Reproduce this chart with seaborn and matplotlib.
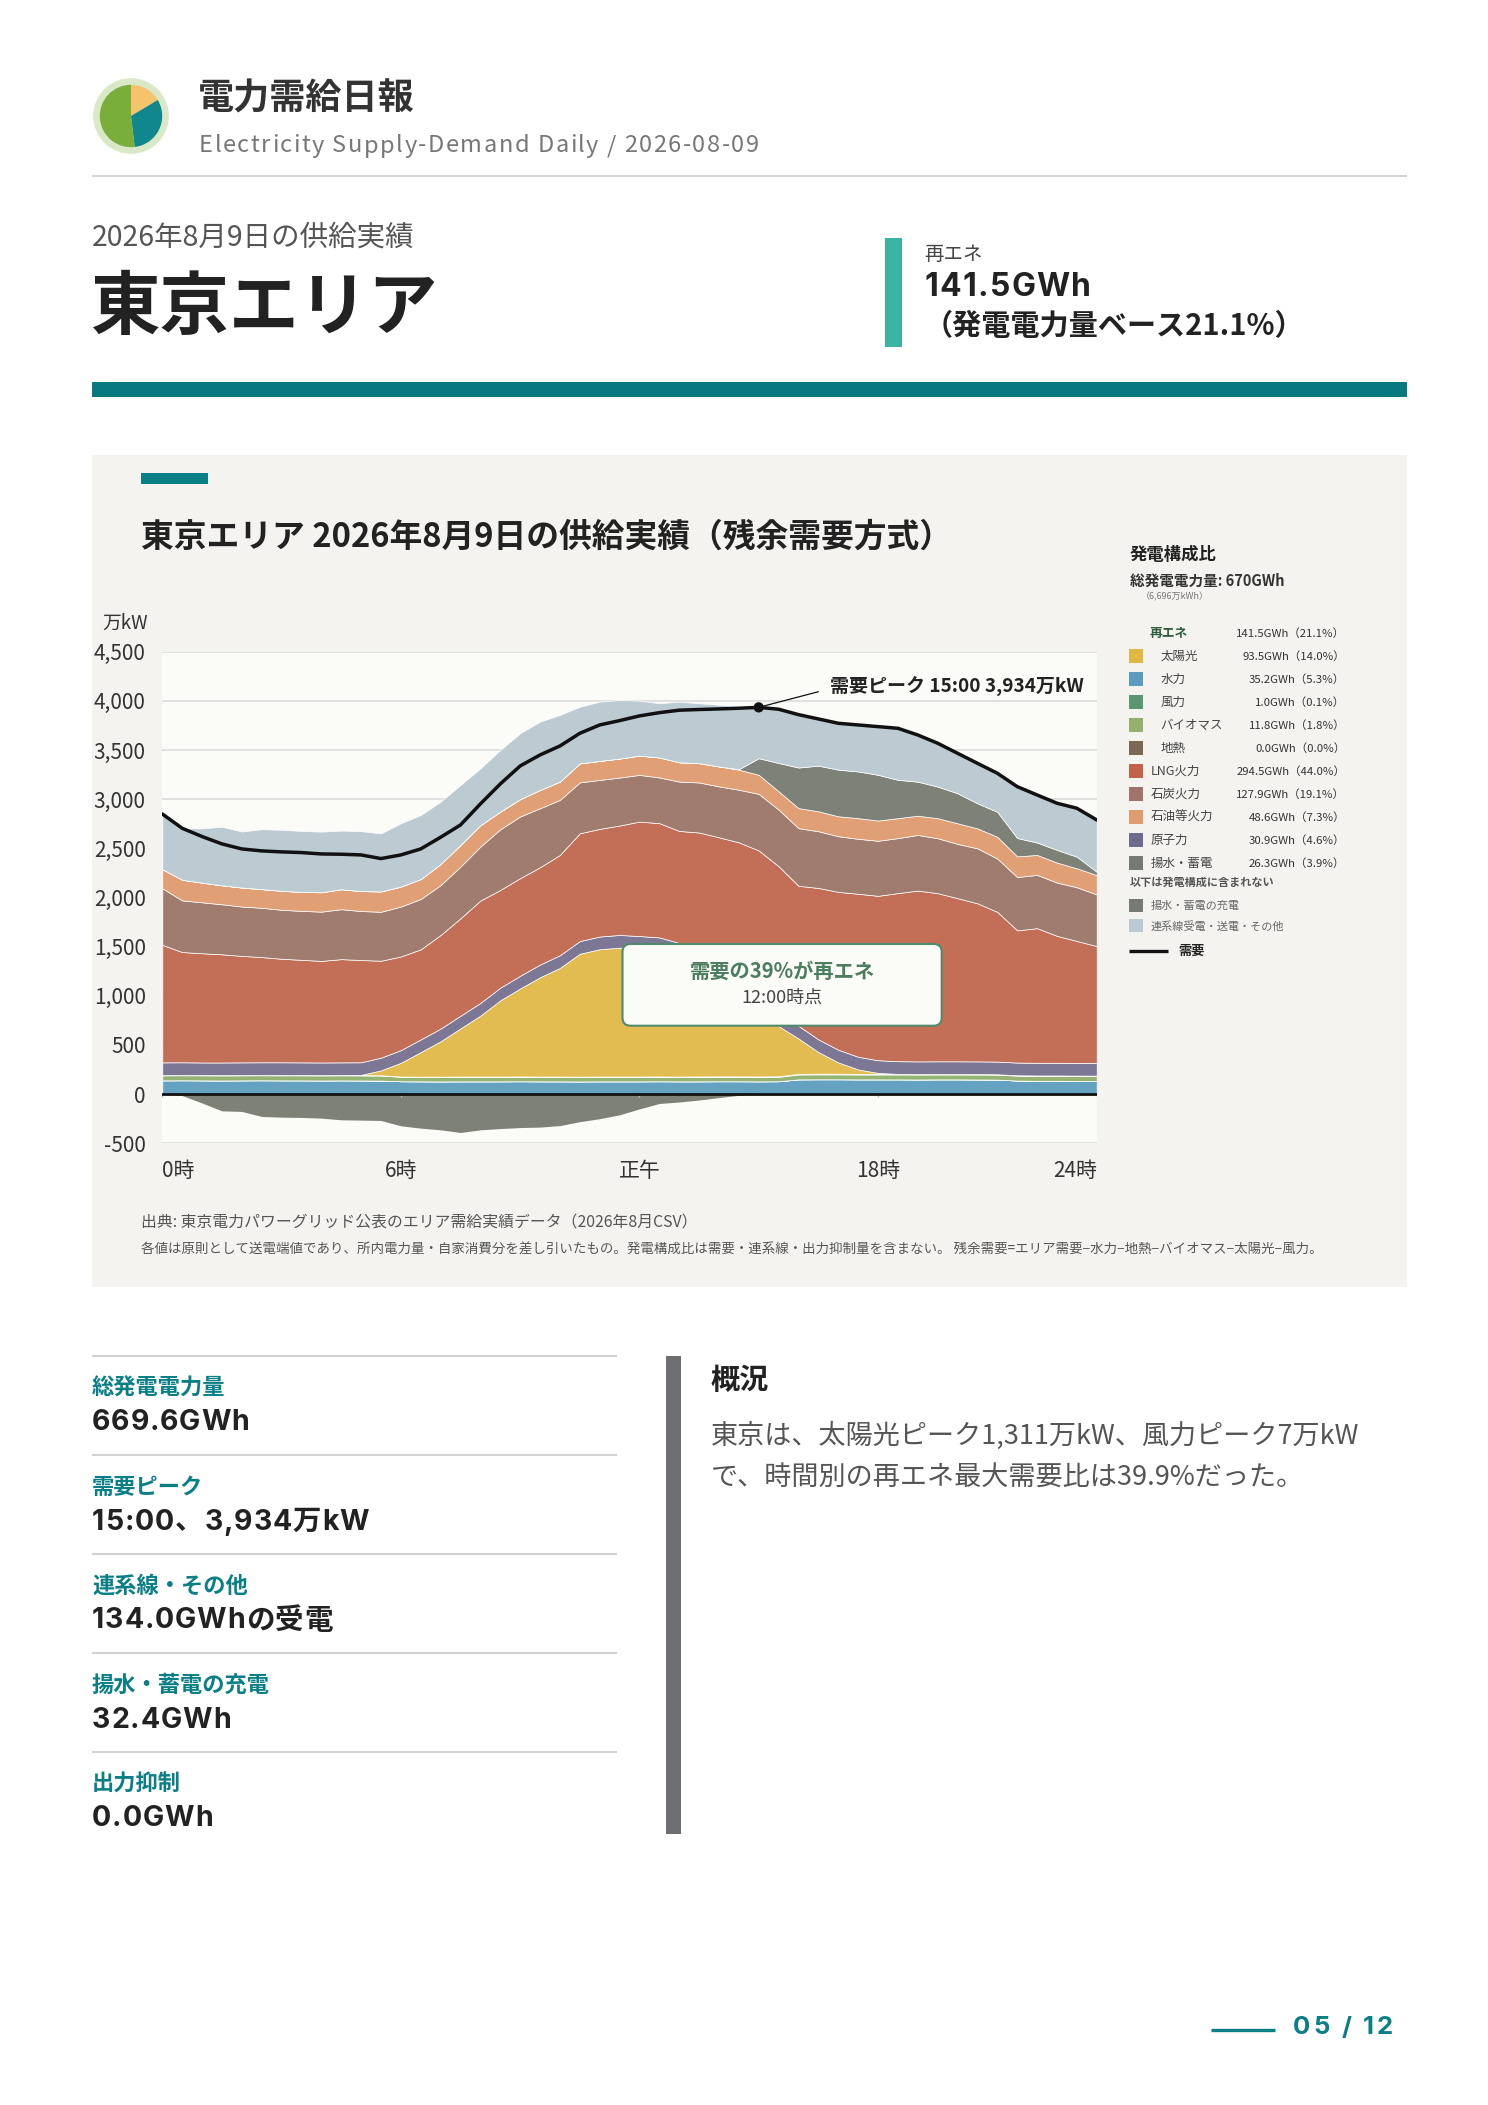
import numpy as np
import pandas as pd
import matplotlib
matplotlib.use('Agg')
import matplotlib.pyplot as plt
import seaborn as sns
from matplotlib.patches import Rectangle, FancyBboxPatch
from matplotlib.lines import Line2D
from matplotlib.transforms import IdentityTransform
from matplotlib.font_manager import FontProperties

# ---------------- data (万kW, 30-min steps 0:00 .. 23:30) ----------------
hours = [i * 0.5 for i in range(48)]
demand = [2850, 2704, 2620, 2545, 2494, 2474, 2464, 2457, 2443, 2440, 2433, 2396,
          2433, 2494, 2613, 2738, 2952, 3155, 3338, 3450, 3541, 3670, 3755, 3799,
          3847, 3880, 3905, 3912, 3918, 3925, 3934, 3915, 3860, 3816, 3772, 3755,
          3738, 3721, 3653, 3569, 3467, 3365, 3264, 3128, 3043, 2959, 2908, 2789]
hydro = [140, 141, 140, 139, 140, 141, 140, 140, 139, 140, 139, 138,
         131, 130, 129, 130, 130, 130, 131, 130, 130, 129, 130, 130,
         130, 131, 130, 130, 131, 131, 130, 131, 150, 151, 151, 150,
         150, 150, 149, 150, 150, 149, 148, 138, 136, 136, 135, 134]
geothermal = [0] * 48
biomass = [51, 51, 51, 51, 51, 51, 51, 51, 51, 51, 51, 51,
           45, 45, 45, 45, 45, 45, 45, 45, 45, 45, 45, 45,
           45, 45, 45, 45, 45, 45, 45, 45, 50, 50, 50, 50,
           50, 50, 50, 50, 50, 50, 50, 50, 50, 50, 50, 50]
wind = [3, 3, 3, 3, 3, 3, 3, 3, 3, 3, 3, 3,
        3, 3, 4, 4, 4, 4, 4, 4, 4, 4, 4, 4,
        4, 4, 4, 5, 5, 5, 5, 6, 6, 7, 7, 6,
        6, 6, 5, 5, 5, 5, 4, 4, 4, 4, 4, 4]
solar = [0, 0, 0, 0, 0, 0, 0, 0, 0, 0, 3, 50,
         140, 250, 360, 490, 620, 775, 895, 1010, 1105, 1250, 1295, 1311,
         1300, 1285, 1230, 1100, 960, 810, 660, 510, 360, 220, 115, 45,
         10, 0, 0, 0, 0, 0, 0, 0, 0, 0, 0, 0]
nuclear = [129, 129, 128, 129, 129, 129, 130, 129, 129, 129, 128, 129,
           129, 129, 129, 129, 129, 129, 129, 129, 129, 129, 129, 129,
           129, 129, 129, 129, 129, 129, 129, 129, 129, 129, 129, 129,
           129, 129, 129, 129, 129, 129, 129, 129, 129, 129, 129, 129]
lng = [1195, 1121, 1111, 1100, 1083, 1070, 1053, 1043, 1033, 1050, 1040, 986,
       952, 916, 952, 991, 1041, 994, 993, 990, 1020, 1096, 1095, 1113,
       1164, 1162, 1139, 1252, 1342, 1441, 1509, 1497, 1424, 1540, 1605, 1658,
       1672, 1710, 1737, 1710, 1659, 1608, 1523, 1345, 1369, 1291, 1240, 1189]
coal = [576, 525, 518, 509, 502, 501, 498, 498, 501, 508, 498, 498,
        508, 512, 508, 526, 549, 617, 627, 600, 560, 518, 498, 488,
        475, 465, 502, 509, 518, 535, 576, 576, 586, 577, 566, 559,
        560, 559, 566, 559, 552, 559, 542, 542, 542, 542, 546, 525]
oil = [194, 210, 200, 193, 193, 190, 193, 193, 197, 203, 203, 207,
       203, 203, 214, 220, 217, 180, 176, 186, 186, 193, 193, 193,
       196, 203, 196, 196, 203, 204, 194, 186, 204, 203, 203, 210,
       206, 203, 196, 203, 210, 203, 221, 210, 203, 203, 193, 197]
pumped_gen = [0, 0, 0, 0, 0, 0, 0, 0, 0, 0, 0, 0,
              0, 0, 0, 0, 0, 0, 0, 0, 0, 0, 0, 0,
              0, 0, 0, 0, 0, 5, 169, 288, 413, 464, 474, 475,
              465, 390, 346, 322, 305, 255, 254, 187, 126, 129, 118, 34]
interconnect = [562, 525, 552, 596, 570, 610, 621, 620, 617, 597, 610, 590,
                644, 651, 634, 610, 579, 627, 671, 695, 678, 576, 603, 596,
                559, 552, 617, 610, 627, 638, 518, 550, 539, 478, 475, 474,
                491, 525, 474, 441, 407, 406, 390, 525, 484, 475, 492, 525]
pumped_charge = [0, -15, -90, -170, -176, -227, -234, -237, -244, -261, -264, -268,
                 -322, -346, -363, -390, -363, -350, -340, -335, -320, -280, -250, -210,
                 -150, -95, -80, -60, -35, -12, 0, 0, 0, 0, 0, 0,
                 0, 0, 0, 0, 0, 0, 0, 0, 0, 0, 0, 0]

y_ticks = [-500, 0, 500, 1000, 1500, 2000, 2500, 3000, 3500, 4000, 4500]
x_ticks = [0, 6, 12, 18, 23.5]
x_tick_labels = ['0時', '6時', '正午', '18時', '24時']
peak_hour, peak_value = 15, 3934

legend_labels = ['太陽光', '水力', '風力', 'バイオマス', '地熱', 'LNG火力', '石炭火力',
                 '石油等火力', '原子力', '揚水・蓄電']
legend_values = ['93.5GWh（14.0%）', '35.2GWh（5.3%）', '1.0GWh（0.1%）', '11.8GWh（1.8%）',
                 '0.0GWh（0.0%）', '294.5GWh（44.0%）', '127.9GWh（19.1%）', '48.6GWh（7.3%）',
                 '30.9GWh（4.6%）', '26.3GWh（3.9%）']
legend_sub = [True, True, True, True, True, False, False, False, False, False]
renew_total = '141.5GWh（21.1%）'

kpi_labels = ['総発電電力量', '需要ピーク', '連系線・その他', '揚水・蓄電の充電', '出力抑制']
kpi_values = ['669.6GWh', '15:00、3,934万kW', '134.0GWhの受電', '32.4GWh', '0.0GWh']
logo_shares = [0.164, 0.317, 0.519]

# ---------------- styles ----------------
C_SOLAR, C_HYDRO, C_WIND, C_BIO, C_GEO = '#e2bc50', '#65a2c2', '#5a9670', '#95b474', '#7d6853'
C_LNG, C_COAL, C_OIL, C_NUC = '#c36e56', '#a07c6f', '#e09f74', '#7b7795'
C_PUMP, C_IC = '#7d8177', '#bccbd1'
LEG_COLORS = ['#e2b844', '#5b9bbd', '#5a9670', '#93b06f', '#7d6853', '#c3624a',
              '#a07468', '#e09c6e', '#6f6a8f', '#767a72']
TEAL = '#0b7f86'

W, H = 1488, 2105
sns.set_theme(style='white')
FAMILY = ['Noto Sans CJK JP', 'DejaVu Sans']
WIDE = ['Inter', 'Noto Sans CJK JP', 'DejaVu Sans']
plt.rcParams['font.family'] = FAMILY

fig = plt.figure(figsize=(W / 100, H / 100), dpi=100)
fig.patch.set_facecolor('white')
renderer = fig.canvas.get_renderer()


def fx(x):
    return x / W


def fy(y):
    return 1 - y / H


def T(x, y, s, **kw):
    kw.setdefault('va', 'center')
    kw.setdefault('ha', 'left')
    return fig.text(fx(x), fy(y), s, **kw)


def TT(x, y, s, track=0.0, target=None, ha='left', fontsize=12, fontweight='normal',
       family=FAMILY, **kw):
    """Text with letter spacing (track in pixels, or fitted to a target width)."""
    fp = FontProperties(family=family, size=fontsize, weight=fontweight)

    def wid(t):
        if t.strip() == '':
            return 0.0
        return renderer.get_text_width_height_descent(t, fp, ismath=False)[0]

    if target is not None:
        track = (target - wid(s)) / max(len(s) - 1, 1)
    total = wid(s) + track * (len(s) - 1)
    x0 = x if ha == 'left' else (x - total if ha == 'right' else x - total / 2)
    for k, ch in enumerate(s):
        if ch == ' ':
            continue
        off = wid(s[:k + 1]) - wid(ch)
        T(x0 + off + track * k, y, ch, ha='left', fontsize=fontsize,
          fontweight=fontweight, family=family, **kw)
    return track


def R(x0, y0, x1, y1, color, z=1):
    fig.add_artist(Rectangle((fx(x0), fy(y1)), (x1 - x0) / W, (y1 - y0) / H,
                             transform=fig.transFigure, facecolor=color,
                             edgecolor='none', zorder=z))


def L(x0, y0, x1, y1, color, lw, z=2):
    fig.add_artist(Line2D([fx(x0), fx(x1)], [fy(y0), fy(y1)], transform=fig.transFigure,
                          color=color, lw=lw, zorder=z, solid_capstyle='butt'))


# ---------------- header ----------------
ax_logo = fig.add_axes([fx(92), fy(155), 78 / W, 78 / H])
ax_logo.set_aspect('equal')
ax_logo.axis('off')
ax_logo.add_patch(plt.Circle((0, 0), 1.0, color='#d9e9c8'))
ax_logo.pie(logo_shares, colors=['#f6c26c', '#10878c', '#79ae3a'], startangle=90,
            counterclock=False, radius=0.84, wedgeprops=dict(linewidth=0))
ax_logo.set_xlim(-1.05, 1.05)
ax_logo.set_ylim(-1.05, 1.05)

T(198, 99, '電力需給日報', fontsize=26, fontweight='bold', color='#333333')
TT(199, 146, 'Electricity Supply-Demand Daily / 2026-08-09', target=560, fontsize=17,
   color='#777777')
L(92, 175.5, 1407, 175.5, '#d4d4d4', 1.5)

T(92, 238, '2026年8月9日の供給実績', fontsize=20.5, color='#555555')
T(90, 309, '東京エリア', fontsize=50, fontweight='bold', color='#222222')
R(885, 238, 902, 347, '#3bb3a3')
T(924, 254, '再エネ', fontsize=14, color='#444444')
TT(924, 288, '141.5GWh', target=167, fontsize=23, fontweight='bold', color='#222222',
   family=WIDE)
T(924, 326, '（発電電力量ベース21.1%）', fontsize=21, fontweight='bold', color='#222222')
R(92, 382, 1407, 397, '#077a80')

# ---------------- chart panel ----------------
R(92, 455, 1407, 1287, '#f4f3f0', z=-10)
R(141, 473, 208, 484, TEAL)
T(141, 537, '東京エリア 2026年8月9日の供給実績（残余需要方式）', fontsize=23.6,
  fontweight='bold', color='#222222')

ax = fig.add_axes([162.3 / W, 1 - 1143.3 / H, (1096.7 - 162.3) / W, (1143.3 - 651.7) / H])
ax.set_facecolor('#fbfbf8')
ax.stackplot(hours, hydro, geothermal, biomass, wind, solar, nuclear, lng, coal, oil,
             pumped_gen, interconnect,
             colors=[C_HYDRO, C_GEO, C_BIO, C_WIND, C_SOLAR, C_NUC, C_LNG, C_COAL, C_OIL,
                     C_PUMP, C_IC],
             edgecolor='#ffffff', linewidth=0.5, zorder=2)
ax.fill_between(hours, pumped_charge, 0, color=C_PUMP, lw=0, zorder=2)

df = pd.DataFrame({'hour': hours, 'demand': demand})
sns.lineplot(data=df, x='hour', y='demand', color='#111111', lw=2.5, ax=ax, zorder=6)
sns.scatterplot(x=[peak_hour], y=[peak_value], color='#111111', s=55, ax=ax,
                zorder=7, edgecolor='none')
ax.plot([peak_hour, 16.5], [peak_value, 4093], color='#111111', lw=0.9, zorder=7)
ax.text(16.8, 4141, f'需要ピーク {peak_hour}:00 {peak_value:,}万kW', fontsize=13.7,
        fontweight='bold', color='#222222', va='center', ha='left', zorder=8,
        bbox=dict(facecolor='#fbfbf8', edgecolor='none', pad=2))

ax.axhline(0, color='#111111', lw=2, zorder=5)
ax.vlines(x_ticks, -28, 0, color='#bbbbbb', lw=1, zorder=4)
ax.set_xlim(0, 23.5)
ax.set_ylim(-500, 4500)
ax.set_yticks(y_ticks)
ax.set_yticklabels([f'{v:,}' for v in y_ticks])
ax.yaxis.grid(True, color='#dcdcdc', lw=1.2)
ax.xaxis.grid(False)
ax.set_axisbelow(True)
ax.set_xticks(x_ticks)
ax.set_xticklabels(x_tick_labels)
xl = ax.get_xticklabels()
xl[0].set_ha('left')
xl[-1].set_ha('right')
ax.tick_params(axis='y', length=0, pad=12, labelsize=15, labelcolor='#333333')
ax.tick_params(axis='x', length=0, pad=12, labelsize=15, labelcolor='#333333')
ax.set_xlabel('')
ax.set_ylabel('')
for s in ax.spines.values():
    s.set_visible(False)
T(102, 623, '万kW', fontsize=13.5, color='#333333')

# callout box
fig.add_artist(FancyBboxPatch((622.5, H - 1025.7), 319.2, 81.7,
                              boxstyle='round,pad=0,rounding_size=8',
                              transform=IdentityTransform(), facecolor='#fbfbf8',
                              edgecolor='#4f8a6b', lw=1.5, zorder=5))
T(782, 971, '需要の39%が再エネ', fontsize=14.6, fontweight='bold', color='#4b7d5f',
  ha='center', zorder=6)
T(782, 998, '12:00時点', fontsize=13, color='#444444', ha='center', zorder=6)

# legend
T(1130, 555, '発電構成比', fontsize=12.5, fontweight='bold', color='#222222')
T(1130, 581, '総発電電力量: 670GWh', fontsize=10.5, fontweight='bold', color='#333333')
T(1141, 597, '（6,696万kWh）', fontsize=6.5, color='#777777')
T(1150, 633, '再エネ', fontsize=9.2, fontweight='bold', color='#2e5e3e')
T(1345, 633, renew_total, fontsize=8.2, color='#333333', ha='right')
for k, (lab, val, sub, col) in enumerate(zip(legend_labels, legend_values, legend_sub, LEG_COLORS)):
    yy = 656 + 23 * k
    R(1129.3, yy - 6.7, 1142.7, yy + 6.7, col)
    T(1160.7 if sub else 1150.7, yy, lab, fontsize=9, color='#444444')
    T(1345, yy, val, fontsize=8.2, color='#333333', ha='right')
T(1130, 882, '以下は発電構成に含まれない', fontsize=8, fontweight='bold', color='#555555')
R(1129.3, 905.7 - 6.7, 1142.7, 905.7 + 6.7, '#767a72')
T(1150.7, 906, '揚水・蓄電の充電', fontsize=8, color='#666666')
R(1129.3, 925.7 - 6.7, 1142.7, 925.7 + 6.7, '#bccbd3')
T(1150.7, 926, '連系線受電・送電・その他', fontsize=8, color='#666666')
L(1129.3, 950.7, 1167.7, 950.7, '#111111', 2.4)
T(1178, 951, '需要', fontsize=9.5, fontweight='bold', color='#222222')

# footnotes
T(141, 1223, '出典: 東京電力パワーグリッド公表のエリア需給実績データ（2026年8月CSV）',
  fontsize=11.4, color='#555555')
T(141, 1250, '各値は原則として送電端値であり、所内電力量・自家消費分を差し引いたもの。'
  '発電構成比は需要・連系線・出力抑制量を含まない。 残余需要=エリア需要−水力−地熱−バイオマス−太陽光−風力。',
  fontsize=9.7, color='#555555')

# ---------------- KPI block ----------------
kpi_targets = [157, 277, None, None, None]
tracks = []
for k, (lab, val) in enumerate(zip(kpi_labels, kpi_values)):
    y0 = 1356 + 99 * k
    L(92, y0, 617, y0, '#d2d2d2', 1.5)
    T(92, y0 + 32, lab, fontsize=16, fontweight='bold', color=TEAL)
    tr = TT(92, y0 + 67, val, track=(np.mean(tracks) if tracks else 0.0),
            target=kpi_targets[k], fontsize=20.5, fontweight='bold', color='#222222',
            family=WIDE)
    if kpi_targets[k] is not None:
        tracks.append(tr)

R(666, 1356, 681, 1834, '#6e6f73')
T(711, 1380, '概況', fontsize=21, fontweight='bold', color='#222222')
T(711, 1436, '東京は、太陽光ピーク1,311万kW、風力ピーク7万kW', fontsize=19.5, color='#555555')
T(711, 1478, 'で、時間別の再エネ最大需要比は39.9%だった。', fontsize=19.5, color='#555555')

# page number
L(1211, 2030, 1275, 2030, TEAL, 2.4)
TT(1393, 2028, '05 / 12', target=100, ha='right', fontsize=18.5, fontweight='bold',
   color=TEAL, family=WIDE)

fig.savefig('out.png', dpi=100, facecolor='white')
